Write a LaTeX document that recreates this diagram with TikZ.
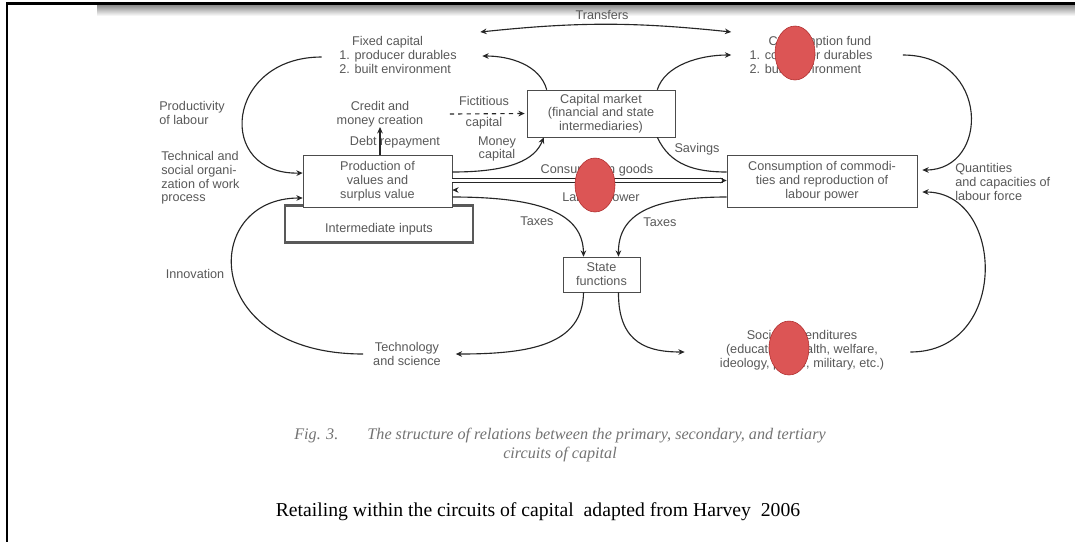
\documentclass[tikz,border=0pt]{standalone}
\usepackage{fontspec}
\setmainfont{Liberation Serif}
\setsansfont{Liberation Sans}
\usetikzlibrary{arrows.meta, shapes.geometric, calc}

\begin{document}
\begin{tikzpicture}[x=0.025cm, y=-0.025cm, >={Stealth[length=4.5pt, width=4pt]},
    font=\sffamily\fontsize{9}{9.8}\selectfont,
    box/.style={draw=black!70, fill=white, inner sep=1pt, align=center, text=black!65},
    lbl/.style={inner sep=0pt, align=center, text=black!65},
    flow/.style={draw=black!85, line width=0.8pt},
    blot/.style={ellipse, draw={rgb,255:red,175;green,45;blue,45}, fill={rgb,255:red,220;green,85;blue,85},
      minimum width=1.0cm, minimum height=1.35cm, inner sep=0pt}]
  % page frame
  \useasboundingbox (0,0) rectangle (1075,542);
  \fill[white] (0,0) rectangle (1075,542);
  \shade[top color=black!45, bottom color=white] (97,5) rectangle (1075,16);
  \draw[line width=2.8pt] (6,3.5) -- (1075,3.5);
  \draw[line width=1.5pt] (7,3) -- (7,542);

  % boxes
  \node[box, draw=black!65, line width=1.5pt, minimum width=4.7cm, minimum height=0.925cm] (inter) at (379,224) {};
  \node[lbl] (interlbl) at (379,229) {Intermediate inputs};
  \node[box, minimum width=3.725cm, minimum height=1.3cm]  (prod)   at (377.5,181) {Production of\\values and\\surplus value};
  \node[box, minimum width=3.7cm, minimum height=1.175cm]  (capmkt) at (601,113.5) {Capital market\\(financial and state\\intermediaries)};
  \node[box, minimum width=4.75cm, minimum height=1.3cm]   (cons)   at (822,181)   {Consumption of commodi-\\ties and reproduction of\\labour power};
  \node[box, minimum width=1.925cm, minimum height=0.875cm] (state) at (601.5,274.5) {State\\functions};

  % stocks and other texts
  \node[lbl, align=left, minimum width=3.25cm]  (fixcap)  at (398,55)  {\hspace*{1em}Fixed capital\\1. producer durables\\2. built environment};
  \node[lbl, align=left, minimum width=3.575cm] (confund) at (811,55)  {\hspace*{1.5em}Consumption fund\\1. consumer durables\\2. built environment};
  \node[lbl, minimum width=2.375cm] (credit)  at (380,114) {Credit and\\money creation};
  \node[lbl, minimum width=1.825cm] (techsci) at (407,354) {Technology\\and science};
  \node[lbl, minimum width=4.75cm]  (social)  at (802,350) {Social expenditures\\(education, health, welfare,\\ideology, police, military, etc.)};
  \node[lbl, align=left, anchor=west] (prodlab) at (159,113) {Productivity\\of labour};
  \node[lbl, align=left, anchor=west] (techorg) at (161,178) {Technical and\\social organi-\\zation of work\\process};
  \node[lbl, align=left, anchor=west] (quant)   at (955,182) {Quantities\\and capacities of\\labour force};
  \node[lbl] (innov)     at (195,274) {Innovation};
  \node[lbl] (transfers) at (602,15)  {Transfers};
  \node[lbl] (debt)      at (395,142) {Debt repayment};
  \node[lbl] (fict)      at (484,113) {Fictitious\\[5pt]capital};
  \node[lbl] (money)     at (497,149) {Money\\capital};
  \node[lbl] (savings)   at (697,149) {Savings};
  \node[lbl] (goods)     at (597,170) {Consumption goods};
  \node[lbl] (labour)    at (601,198) {Labour power};
  \node[lbl] (taxl)      at (537,221) {Taxes};
  \node[lbl] (taxr)      at (660,222) {Taxes};

  % flows
  \draw[flow, ->] ($(fixcap.west)+(-11,2)$) .. controls (225,57) and (215,175) .. ($(prod.west)+(0,-8)$);
  \draw[flow, ->] ($(techsci.west)+(-7,0)$) .. controls (200,354) and (200,198) .. ($(prod.west)+(0,17)$);
  \draw[flow, ->] ($(capmkt.north west)+(20,0)$) .. controls (540,65) and (510,56) .. ($(fixcap.east)+(19,1)$);
  \draw[flow, ->] ($(capmkt.north east)+(-18,0)$) .. controls (665,65) and (700,55) .. ($(confund.west)+(-8,0)$);
  \draw[flow, <->] ($(fixcap.east)+(17,-23)$) to[bend left=6] ($(confund.west)+(-8,-23)$);
  \draw[flow, ->] ($(confund.east)+(20,0)$) .. controls (990,55) and (990,170) .. ($(cons.east)+(5,-11)$);
  \draw[flow, ->] ($(social.east)+(13,2)$) .. controls (1010,352) and (1005,192) .. ($(cons.east)+(5,11)$);
  \draw[flow, ->] ($(prod.east)+(0,-9)$) .. controls (510,172) and (535,160) .. ($(capmkt.south west)+(17,0)$);
  \draw[flow] ($(capmkt.south east)+(-18,0)$) .. controls (670,165) and (695,172) .. ($(cons.west)+(0,-9)$);
  \draw[flow, line width=0.6pt, double, double distance=2.2pt, ->] ($(prod.east)+(0,-0.5)$) -- ($(cons.west)+(0,-0.5)$);
  \draw[flow, line width=0.6pt, double, double distance=2.2pt, ->] ($(cons.west)+(0,9)$) -- ($(prod.east)+(0,9)$);
  \draw[flow, ->] ($(prod.east)+(0,16)$) .. controls (545,197) and (583,215) .. ($(state.north)+(-18,0)$);
  \draw[flow, ->] ($(cons.west)+(0,16)$) .. controls (650,197) and (618,215) .. ($(state.north)+(17,0)$);
  \draw[flow, ->] ($(state.south)+(-18,0)$) .. controls (583,345) and (530,354) .. ($(techsci.east)+(12,0)$);
  \draw[flow, ->] ($(state.south)+(17,0)$) .. controls (618,345) and (650,352) .. ($(social.west)+(-22,2)$);
  \draw[flow, ->] (prod.north -| credit.south) -- (credit.south);
  \draw[flow, dashed, ->] ($(credit.east)+(22,0)$) -- ($(capmkt.west)+(-2,0)$);

  % red marks
  \node[blot] (blot1) at (795,53)  {};
  \node[blot] (blot2) at (595,185) {};
  \node[blot] (blot3) at (789,348) {};

  % captions
  \node[font=\rmfamily\itshape\fontsize{11.5}{13.5}\selectfont, text=black!55, align=center] (figcap) at (560,445)
    {Fig. 3.\hspace{1.8em}The structure of relations between the primary, secondary, and tertiary\\circuits of capital};
  \node[font=\rmfamily\fontsize{14}{16}\selectfont] (retail) at (538,512)
    {Retailing within the circuits of capital\ \ adapted from Harvey\ \ 2006};
\end{tikzpicture}
\end{document}
